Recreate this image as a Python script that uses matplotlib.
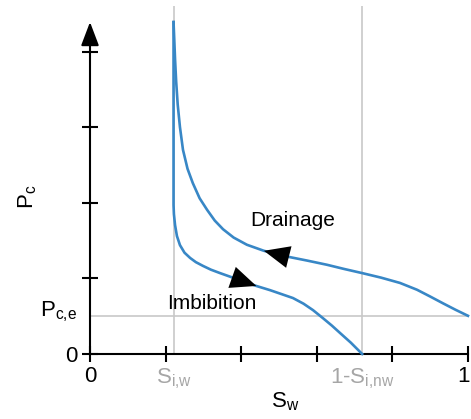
import matplotlib
matplotlib.use('Agg')
import matplotlib.pyplot as plt
import matplotlib.transforms as mtransforms

plt.rcParams['font.family'] = ['Liberation Sans', 'DejaVu Sans']
plt.rcParams['mathtext.fontset'] = 'custom'
plt.rcParams['mathtext.rm'] = 'Liberation Sans'
plt.rcParams['mathtext.it'] = 'Liberation Sans'
plt.rcParams['mathtext.default'] = 'regular'

# key saturations / entry pressure
swi = 0.221
snw = 0.28
pce = 0.1
y_top = 0.878

# drainage curve (S_w, P_c)
drain_sw = [0.221, 0.223, 0.225, 0.228, 0.232, 0.238, 0.246, 0.258, 0.272, 0.29, 0.310, 0.330,
            0.352, 0.38, 0.415, 0.46, 0.52, 0.575, 0.627, 0.672, 0.72, 0.77, 0.82, 0.865,
            0.90, 0.934, 0.967, 1.0]
drain_pc = [0.878, 0.83, 0.78, 0.72, 0.66, 0.60, 0.540, 0.49, 0.452, 0.412, 0.381, 0.353,
            0.330, 0.308, 0.289, 0.273, 0.258, 0.247, 0.236, 0.225, 0.214, 0.202, 0.188, 0.170,
            0.152, 0.134, 0.117, 0.101]

# imbibition curve (S_w, P_c)
imb_sw = [0.221, 0.221, 0.222, 0.225, 0.230, 0.238, 0.250, 0.265, 0.280, 0.299, 0.320, 0.344,
          0.389, 0.44, 0.476, 0.537, 0.565, 0.590, 0.616, 0.640, 0.661, 0.690, 0.72]
imb_pc = [0.878, 0.394, 0.370, 0.341, 0.312, 0.288, 0.268, 0.254, 0.243, 0.233, 0.223, 0.214,
          0.198, 0.180, 0.169, 0.148, 0.133, 0.116, 0.095, 0.075, 0.056, 0.030, 0.0]

x_ticks = [0, 0.2, 0.4, 0.6, 0.8, 1.0]
x_labels = ['0', '', '', '', '', '1']
y_ticks = [0, 0.2, 0.4, 0.6, 0.8]
y_labels = ['0', '', '', '', '']

blue = '#3887c6'
grey = '#c8c8c8'

fig = plt.figure(figsize=(4.71, 4.19), dpi=100)
ax = fig.add_axes([90/471, 65/419, 378/471, 347.8/419])
ax.set_xlim(0, 1)
ax.set_ylim(0, 0.92)

# reference lines
ax.axvline(swi, color=grey, lw=1.2, zorder=1)
ax.axvline(1 - snw, color=grey, lw=1.2, zorder=1)
ax.axhline(pce, color=grey, lw=1.2, zorder=1)

ax.plot(drain_sw, drain_pc, color=blue, lw=1.9, clip_on=False, zorder=3,
        solid_joinstyle='round')
ax.plot(imb_sw, imb_pc, color=blue, lw=1.9, clip_on=False, zorder=3,
        solid_joinstyle='round')

# direction arrows on the curves
head = dict(arrowstyle='-|>,head_length=1.85,head_width=0.8', mutation_scale=10,
            color='k', lw=0, shrinkA=0, shrinkB=0)
i = drain_sw.index(0.46)
ax.annotate('', xy=(drain_sw[i], drain_pc[i]), xytext=(drain_sw[i + 1], drain_pc[i + 1]),
            arrowprops=head, zorder=4)
j = imb_sw.index(0.44)
ax.annotate('', xy=(imb_sw[j], imb_pc[j]), xytext=(imb_sw[j - 1], imb_pc[j - 1]),
            arrowprops=head, zorder=4)

ax.text(0.535, 0.339, 'Drainage', fontsize=15, ha='center', va='baseline')
ax.text(0.323, 0.119, 'Imbibition', fontsize=15, ha='center', va='baseline')

# axes
for s in ['top', 'right', 'left']:
    ax.spines[s].set_visible(False)
ax.spines['bottom'].set_linewidth(1.5)
ax.spines['bottom'].set_bounds(0, 1)
ax.annotate('', xy=(0, y_top), xytext=(0, 0),
            arrowprops=dict(arrowstyle='-|>,head_length=1.45,head_width=0.55', mutation_scale=10,
                            color='k', lw=1.5, shrinkA=0, shrinkB=0),
            annotation_clip=False)

ax.set_xticks(x_ticks, x_labels)
ax.set_yticks(y_ticks, y_labels)
ax.set_xticks([swi, 1 - snw], [r'$S_{i{,}w}$', r'1-$S_{i{,}nw}$'], minor=True)
ax.set_yticks([], minor=True)
ax.tick_params(which='major', direction='inout', length=11.5, width=1.5, labelsize=16, pad=3)
ax.tick_params(axis='x', which='minor', length=0, pad=8.75, labelsize=16, labelcolor='#a6a6a6')

# nudge the "1" so it stays inside the figure
last = ax.get_xticklabels()[-1]
last.set_transform(last.get_transform() +
                   mtransforms.ScaledTranslation(-3/72, 0, fig.dpi_scale_trans))

ax.text(-0.034, pce, r'$P_{c{,}e}$', fontsize=16, ha='right', va='baseline', clip_on=False)
ax.text(-0.164, 0.451, r'$P_c$', fontsize=16, rotation=90, ha='center', va='center',
        transform=ax.transAxes)
ax.text(0.516, -0.105, r'$S_w$', fontsize=16, ha='center', va='top', transform=ax.transAxes)

fig.savefig('out.png', dpi=100)
